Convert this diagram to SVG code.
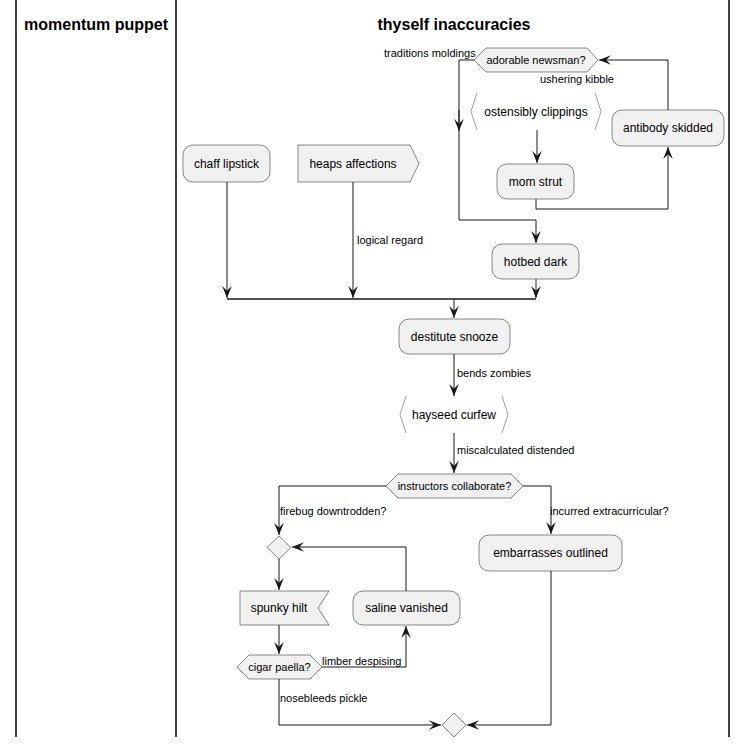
<svg xmlns="http://www.w3.org/2000/svg" width="747" height="748" viewBox="0 0 747 748">
<defs>
<marker id="ah" markerUnits="userSpaceOnUse" markerWidth="12" markerHeight="10" refX="10" refY="4" orient="auto" viewBox="0 0 10 8">
<path d="M0,0 L10,4 L0,8 L4,4 Z" fill="#181818"/>
</marker>
</defs>
<style>
text{font-family:"Liberation Sans",Arial,sans-serif;fill:#000}
.t{font-size:12px;text-anchor:middle}
.s{font-size:11px;text-anchor:middle}
.l{font-size:11px}
.h{font-size:16px;font-weight:bold;text-anchor:middle}
.n{fill:#F1F1F1;stroke:#181818;stroke-width:0.5}
.b{fill:none;stroke:#A0A0A0;stroke-width:1}
.c path{fill:none;stroke:#181818;stroke-width:1}
.lane{stroke:#000;stroke-width:1.5}
</style>
<rect width="747" height="748" fill="#fff"/>
<g id="lanes">
<line class="lane" x1="16" y1="0" x2="16" y2="737"/>
<line class="lane" x1="176" y1="0" x2="176" y2="737"/>
<line class="lane" x1="729" y1="0" x2="729" y2="737"/>
<text class="h" x="96" y="30">momentum puppet</text>
<text class="h" x="454" y="30">thyself inaccuracies</text>
</g>
<g class="c" id="connectors">
<path d="M474,60 H459 V220 H536 V243" marker-end="url(#ah)"/>
<path d="M459,110 V131" marker-end="url(#ah)"/>
<path d="M537,130 V163" marker-end="url(#ah)"/>
<path d="M536,199 V209 H668 V147" marker-end="url(#ah)"/>
<path d="M668,110 V60 H599" marker-end="url(#ah)"/>
<path d="M227,182 V298" marker-end="url(#ah)"/>
<path d="M353,182 V298" marker-end="url(#ah)"/>
<path d="M536,279 V298" marker-end="url(#ah)"/>
<path d="M227,299 H536" style="stroke-width:1.5"/>
<path d="M454,299 V318" marker-end="url(#ah)"/>
<path d="M454,354 V396" marker-end="url(#ah)"/>
<path d="M454,433 V473" marker-end="url(#ah)"/>
<path d="M386,486 H279 V535" marker-end="url(#ah)"/>
<path d="M523,486 H551 V534" marker-end="url(#ah)"/>
<path d="M279,559 V590" marker-end="url(#ah)"/>
<path d="M279,625 V654" marker-end="url(#ah)"/>
<path d="M322,667 H406 V626" marker-end="url(#ah)"/>
<path d="M406,591 V547 H292" marker-end="url(#ah)"/>
<path d="M279,679 V725 H441" marker-end="url(#ah)"/>
<path d="M551,571 V725 H467" marker-end="url(#ah)"/>
<text class="l" x="384" y="57">traditions moldings</text>
<text class="l" x="540" y="83">ushering kibble</text>
<text class="l" x="357" y="244">logical regard</text>
<text class="l" x="457" y="377">bends zombies</text>
<text class="l" x="457" y="454">miscalculated distended</text>
<text class="l" x="280" y="515">firebug downtrodden?</text>
<text class="l" x="550" y="515">incurred extracurricular?</text>
<text class="l" x="322" y="665">limber despising</text>
<text class="l" x="280" y="702">nosebleeds pickle</text>
</g>
<g id="adorable-newsman">
<polygon class="n" points="474,60 486,48 587,48 598,60 587,72 486,72"/>
<text class="s" x="536" y="64">adorable newsman?</text>
</g>
<g id="ostensibly-clippings">
<polyline class="b" points="477,93 471,111.5 477,130"/>
<polyline class="b" points="595,93 601,111.5 595,130"/>
<text class="t" x="536" y="116">ostensibly clippings</text>
</g>
<g id="mom-strut">
<rect class="n" x="497" y="164" width="77" height="35" rx="10"/>
<text class="t" x="535.5" y="186">mom strut</text>
</g>
<g id="antibody-skidded">
<rect class="n" x="612" y="110" width="112" height="36" rx="10"/>
<text class="t" x="668" y="132">antibody skidded</text>
</g>
<g id="chaff-lipstick">
<rect class="n" x="183" y="145" width="87" height="37" rx="10"/>
<text class="t" x="226.5" y="168">chaff lipstick</text>
</g>
<g id="heaps-affections">
<polygon class="n" points="298,145 410,145 419,163.5 410,182 298,182"/>
<text class="t" x="353" y="168">heaps affections</text>
</g>
<g id="hotbed-dark">
<rect class="n" x="492" y="244" width="87" height="35" rx="10"/>
<text class="t" x="535.5" y="266">hotbed dark</text>
</g>
<g id="destitute-snooze">
<rect class="n" x="399" y="319" width="111" height="35" rx="10"/>
<text class="t" x="454.5" y="341">destitute snooze</text>
</g>
<g id="hayseed-curfew">
<polyline class="b" points="406,396 400,414.5 406,433"/>
<polyline class="b" points="502,396 508,414.5 502,433"/>
<text class="t" x="454" y="419">hayseed curfew</text>
</g>
<g id="instructors-collaborate">
<polygon class="n" points="386,486 398,474 511,474 523,486 511,498 398,498"/>
<text class="s" x="454.5" y="490">instructors collaborate?</text>
</g>
<g id="merge1">
<polygon class="n" points="279,536 291,547.5 279,559 267,547.5"/>
</g>
<g id="embarrasses-outlined">
<rect class="n" x="479" y="535" width="143" height="36" rx="10"/>
<text class="t" x="550.5" y="557">embarrasses outlined</text>
</g>
<g id="spunky-hilt">
<polygon class="n" points="240,591 329,591 318,608 329,625 240,625"/>
<text class="t" x="279" y="612">spunky hilt</text>
</g>
<g id="saline-vanished">
<rect class="n" x="353" y="591" width="107" height="34" rx="10"/>
<text class="t" x="406.5" y="612">saline vanished</text>
</g>
<g id="cigar-paella">
<polygon class="n" points="237,667 249,655 310,655 322,667 310,679 249,679"/>
<text class="s" x="279.5" y="671">cigar paella?</text>
</g>
<g id="merge2">
<polygon class="n" points="454,713 466,725 454,737 442,725"/>
</g>
</svg>
